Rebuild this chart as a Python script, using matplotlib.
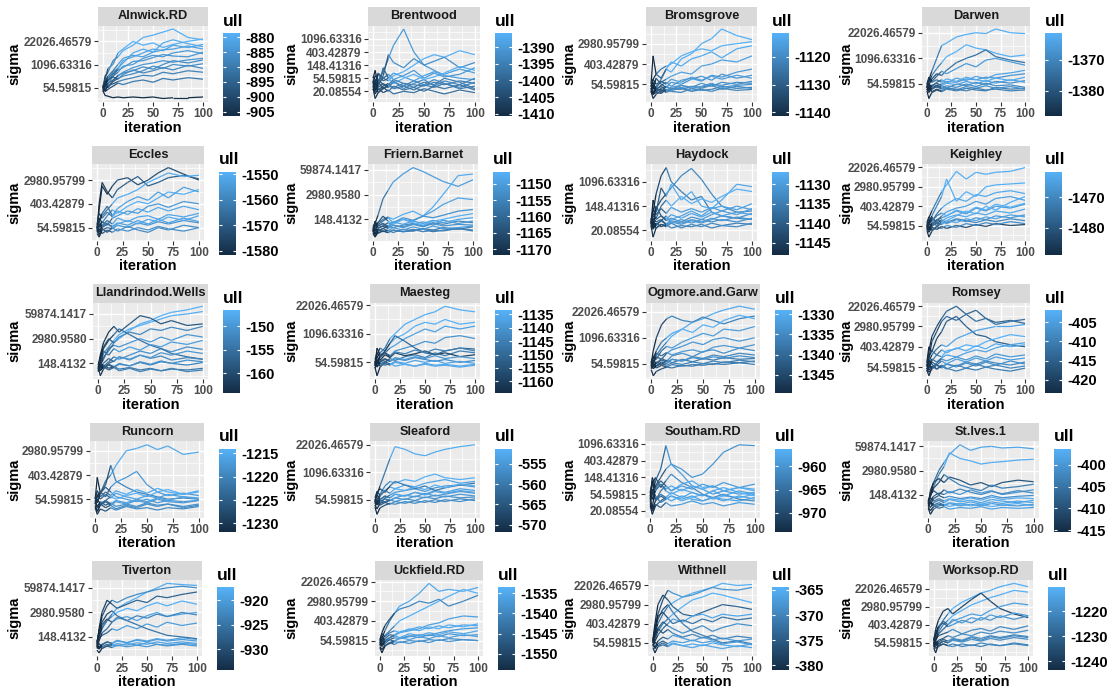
import numpy as np
import matplotlib
matplotlib.use("Agg")
from matplotlib import pyplot as plt
from matplotlib.collections import LineCollection
from matplotlib.colors import LinearSegmentedColormap, Normalize
from matplotlib.ticker import NullFormatter
import matplotlib.cm as cm

plt.rcParams['font.family'] = ['Liberation Sans', 'DejaVu Sans']
plt.rcParams['font.weight'] = 'bold'

ITERATION = [0, 2, 5, 10, 15, 20, 30, 40, 50, 60, 70, 85, 100]
# each ull value holds from this iteration on (start, early, settled)
ULL_FROM = [0, 5, 15]

NAMES = ["Alnwick.RD", "Brentwood", "Bromsgrove", "Darwen",
         "Eccles", "Friern.Barnet", "Haydock", "Keighley",
         "Llandrindod.Wells", "Maesteg", "Ogmore.and.Garw", "Romsey",
         "Runcorn", "Sleaford", "Southam.RD", "St.Ives.1",
         "Tiverton", "Uckfield.RD", "Withnell", "Worksop.RD"]

# y breaks as natural-log exponents (labels are exp(k))
Y_BREAKS = [[4, 7, 10], [3, 4, 5, 6, 7], [4, 6, 8], [4, 7, 10],
            [4, 6, 8], [5, 8, 11], [3, 5, 7], [4, 6, 8, 10],
            [5, 8, 11], [4, 7, 10], [4, 7, 10], [4, 6, 8, 10],
            [4, 6, 8], [4, 7, 10], [3, 4, 5, 6, 7], [5, 8, 11],
            [5, 8, 11], [4, 6, 8, 10], [4, 6, 8, 10], [4, 6, 8, 10]]

# colourbar break spacing
ULL_STEP = [5, 5, 10, 10, 10, 5, 5, 10, 5, 5, 5, 5, 5, 5, 5, 5, 5, 5, 5, 10]

# log(sigma) per chain, ull per chain
ALNWICK_SIGMA = [
    [3.6, 3.0, 2.9, 2.7, 2.8, 2.7, 2.8, 2.7, 2.8, 2.6, 2.7, 2.7, 2.8],
    [4.0, 5.5, 6.0, 7.5, 8.0, 8.8, 9.5, 10.5, 10.8, 11.2, 11.6, 10.5, 10.2],
    [4.2, 5.0, 6.5, 7.0, 8.5, 9.0, 10.0, 9.5, 9.8, 9.2, 9.6, 10.0, 10.3],
    [3.8, 4.5, 5.2, 6.0, 6.5, 7.5, 8.0, 8.5, 9.0, 8.8, 9.5, 9.2, 9.6],
    [4.0, 4.8, 5.0, 5.5, 6.0, 6.8, 7.0, 7.8, 8.2, 8.0, 8.5, 8.8, 8.4],
    [3.5, 4.2, 4.6, 5.0, 5.5, 6.0, 6.6, 7.0, 7.2, 7.5, 7.3, 7.6, 7.8],
    [3.9, 4.4, 4.0, 4.8, 5.2, 5.5, 5.8, 6.2, 6.8, 6.5, 7.0, 6.8, 7.1],
    [4.1, 3.6, 4.3, 4.5, 4.8, 5.0, 5.3, 5.6, 5.5, 6.0, 5.8, 6.2, 6.0],
    [3.7, 4.0, 4.5, 5.5, 6.5, 7.2, 8.5, 9.0, 8.6, 9.8, 10.2, 9.7, 9.3],
    [4.3, 3.5, 3.8, 4.2, 4.6, 4.4, 4.8, 5.0, 4.7, 5.2, 5.0, 5.3, 5.1],
    [4.0, 4.7, 5.5, 6.2, 7.0, 7.8, 8.2, 8.0, 8.6, 8.9, 9.0, 9.4, 9.0],
    [3.8, 4.3, 4.9, 5.8, 6.3, 6.6, 7.4, 7.5, 7.9, 8.3, 8.1, 8.0, 8.6],
    [4.2, 3.7, 4.2, 4.9, 5.6, 5.9, 6.2, 6.7, 6.4, 7.0, 7.5, 7.2, 7.6],
    [3.6, 4.5, 5.0, 5.4, 5.1, 5.7, 6.3, 5.9, 6.2, 6.6, 6.3, 6.9, 6.5],
]
ALNWICK_ULL = [[-906.5, -906, -905.5], [-900, -888, -879], [-899, -886, -878.5],
               [-902, -890, -881], [-903, -892, -883], [-904, -894, -884],
               [-905, -896, -886], [-904, -897, -888], [-901, -889, -880],
               [-905, -898, -890], [-903, -890, -882], [-904, -893, -884],
               [-905, -895, -886], [-905, -896, -887]]

BRENTWOOD_SIGMA = [
    [3.5, 3.0, 3.8, 4.5, 5.5, 6.5, 7.76, 6.0, 5.0, 4.6, 4.2, 4.0, 3.9],
    [3.8, 3.3, 3.6, 4.0, 3.8, 4.2, 4.5, 5.0, 5.5, 5.8, 5.6, 6.1, 5.8],
    [4.0, 4.6, 3.5, 4.2, 5.8, 5.2, 4.8, 5.5, 5.0, 5.3, 5.6, 4.8, 5.2],
    [3.2, 2.45, 2.9, 3.2, 3.4, 3.3, 3.6, 3.5, 3.4, 3.7, 3.5, 3.8, 3.6],
    [3.6, 4.2, 3.9, 3.5, 3.3, 3.8, 3.2, 3.6, 3.9, 3.4, 3.8, 3.5, 4.0],
    [3.4, 2.8, 3.2, 2.9, 3.1, 2.8, 3.0, 2.9, 3.2, 3.0, 2.8, 3.1, 2.9],
    [3.9, 3.5, 4.3, 3.8, 4.0, 4.4, 4.1, 3.8, 4.2, 4.5, 4.3, 4.7, 4.4],
    [3.3, 3.7, 3.1, 3.4, 3.6, 3.2, 3.4, 3.1, 3.5, 3.3, 3.6, 3.2, 3.4],
    [3.7, 3.0, 3.4, 4.8, 4.0, 3.6, 4.0, 4.3, 3.9, 4.1, 4.4, 4.9, 4.6],
    [3.5, 3.9, 3.3, 3.6, 3.3, 3.7, 3.4, 3.8, 3.5, 3.9, 3.6, 3.3, 3.7],
    [3.8, 3.1, 3.7, 3.2, 3.5, 3.9, 3.6, 3.3, 3.7, 3.5, 4.0, 3.7, 3.2],
    [3.1, 3.6, 2.9, 3.3, 3.0, 3.4, 3.1, 3.3, 3.0, 3.4, 3.2, 3.5, 3.1],
    [4.1, 3.7, 4.4, 4.0, 4.3, 3.9, 4.2, 4.6, 4.0, 4.4, 4.1, 4.3, 4.8],
]
BRENTWOOD_ULL = [[-1410, -1398, -1390], [-1408, -1397, -1386], [-1410.7, -1402, -1392],
                 [-1409, -1404, -1395], [-1409, -1403, -1393], [-1410, -1405, -1398],
                 [-1408, -1400, -1389], [-1410, -1404, -1396], [-1407, -1399, -1385.7],
                 [-1409, -1402, -1394], [-1410, -1403, -1395], [-1410, -1404, -1397],
                 [-1408, -1400, -1390]]

BROMSGROVE_SIGMA = [
    [3.5, 4.0, 3.6, 4.5, 5.5, 5.2, 6.5, 7.0, 8.0, 8.5, 9.45, 8.8, 8.4],
    [3.8, 4.5, 5.0, 5.5, 5.8, 6.0, 6.8, 7.2, 7.5, 7.3, 7.8, 8.0, 8.2],
    [4.0, 6.8, 5.0, 4.6, 5.5, 6.2, 5.8, 6.5, 6.8, 7.2, 6.6, 7.5, 7.8],
    [3.6, 3.2, 3.8, 4.2, 4.5, 4.8, 5.2, 5.0, 5.8, 6.0, 6.4, 6.2, 6.8],
    [3.3, 2.6, 3.0, 3.4, 3.3, 3.6, 3.5, 3.8, 3.7, 4.0, 3.9, 4.2, 4.1],
    [3.7, 4.2, 3.5, 3.9, 4.2, 3.8, 4.4, 4.6, 4.3, 4.9, 4.7, 5.2, 5.5],
    [3.4, 3.0, 3.2, 3.1, 3.5, 3.3, 3.2, 3.6, 3.4, 3.5, 3.8, 3.6, 3.7],
    [3.9, 3.5, 4.6, 4.0, 3.7, 4.2, 4.0, 4.5, 4.8, 4.4, 5.0, 4.6, 4.9],
    [3.5, 3.9, 3.3, 3.6, 3.8, 3.5, 3.9, 3.7, 4.1, 3.8, 4.2, 4.0, 4.3],
    [3.6, 3.1, 3.5, 3.8, 3.4, 3.7, 3.9, 3.6, 3.8, 4.1, 3.7, 3.9, 4.0],
    [3.2, 3.8, 3.3, 3.5, 3.2, 3.4, 3.6, 3.3, 3.5, 3.3, 3.6, 3.4, 3.5],
    [3.8, 4.5, 4.0, 4.3, 4.0, 4.5, 4.2, 4.7, 4.4, 4.8, 4.5, 4.9, 4.6],
    [3.4, 3.0, 3.6, 3.2, 3.8, 3.5, 3.7, 3.4, 3.6, 3.9, 3.5, 3.8, 3.6],
]
BROMSGROVE_ULL = [[-1140, -1125, -1112], [-1138, -1124, -1111.5], [-1141.3, -1128, -1113],
                  [-1139, -1127, -1115], [-1140, -1132, -1120], [-1139, -1129, -1117],
                  [-1141, -1134, -1122], [-1140, -1130, -1118], [-1140, -1131, -1119],
                  [-1140, -1130, -1118], [-1141, -1133, -1121], [-1140, -1129, -1116],
                  [-1141, -1132, -1120]]

DARWEN_SIGMA = [
    [3.6, 4.5, 5.5, 7.0, 8.5, 8.8, 9.5, 9.8, 10.0, 9.9, 10.44, 10.0, 9.9],
    [3.8, 4.2, 5.0, 5.8, 6.5, 7.2, 7.8, 8.6, 8.2, 8.0, 7.6, 7.2, 7.4],
    [3.5, 3.9, 4.6, 5.2, 5.0, 5.6, 6.5, 7.0, 7.4, 8.0, 7.2, 6.8, 6.5],
    [3.9, 4.8, 4.3, 4.9, 5.5, 5.2, 5.8, 6.4, 6.0, 6.8, 7.0, 6.6, 6.2],
    [3.4, 3.0, 3.5, 3.8, 4.0, 4.3, 4.2, 4.6, 4.5, 4.8, 4.7, 5.0, 5.2],
    [3.7, 3.3, 3.9, 3.6, 3.8, 3.5, 4.0, 3.8, 4.2, 3.9, 4.3, 4.1, 4.4],
    [3.2, 2.3, 3.0, 3.3, 3.1, 3.4, 3.2, 3.5, 3.3, 3.2, 3.6, 3.4, 3.5],
    [3.6, 4.0, 3.7, 4.2, 4.5, 4.1, 4.7, 4.4, 4.9, 4.6, 5.1, 5.3, 5.6],
    [3.3, 3.7, 3.4, 3.9, 3.5, 3.8, 3.6, 4.0, 3.7, 4.1, 3.8, 3.9, 3.6],
    [3.5, 3.9, 3.4, 3.7, 3.4, 3.6, 3.3, 3.7, 3.5, 3.8, 3.5, 3.7, 3.4],
    [3.8, 3.2, 3.8, 4.1, 3.8, 4.1, 3.9, 4.3, 4.0, 4.4, 4.1, 4.5, 4.2],
    [3.3, 3.6, 3.1, 3.4, 3.2, 3.5, 3.4, 3.2, 3.5, 3.3, 3.4, 3.2, 3.3],
    [4.0, 4.6, 4.2, 4.5, 4.2, 4.6, 4.3, 4.8, 4.5, 4.3, 4.7, 4.4, 4.8],
]
DARWEN_ULL = [[-1386, -1372, -1362], [-1385, -1370, -1361.5], [-1388, -1380, -1374],
              [-1387, -1376, -1366], [-1387, -1377, -1367], [-1388, -1378, -1368],
              [-1388, -1382, -1372], [-1386, -1375, -1364], [-1387, -1379, -1369],
              [-1387, -1378, -1368], [-1387, -1376, -1365], [-1388, -1381, -1371],
              [-1386, -1374, -1363]]

ECCLES_SIGMA = [
    [4.0, 5.5, 7.5, 6.8, 7.5, 8.0, 8.2, 7.6, 8.0, 8.6, 9.05, 8.5, 8.0],
    [3.8, 6.0, 7.8, 7.0, 6.5, 7.2, 7.8, 8.3, 7.5, 7.8, 8.2, 8.4, 8.1],
    [3.9, 4.5, 5.0, 5.5, 6.0, 6.5, 6.8, 7.2, 7.8, 8.2, 8.6, 8.3, 8.4],
    [4.2, 4.8, 4.4, 5.0, 5.5, 5.2, 5.8, 6.2, 6.0, 6.5, 7.0, 6.8, 7.2],
    [3.6, 4.0, 4.5, 4.2, 4.8, 5.0, 5.4, 5.2, 5.8, 6.0, 5.7, 6.2, 6.0],
    [3.5, 3.2, 3.8, 4.0, 3.9, 4.2, 4.0, 4.4, 4.2, 4.5, 4.3, 4.6, 4.4],
    [4.1, 3.6, 4.2, 4.6, 4.3, 4.8, 4.5, 4.9, 5.0, 4.7, 5.1, 4.9, 5.2],
    [3.7, 4.3, 3.9, 3.6, 4.0, 3.7, 4.1, 3.8, 3.6, 4.0, 3.8, 4.2, 4.0],
    [3.9, 4.6, 5.2, 5.8, 5.0, 5.6, 6.2, 6.6, 6.3, 7.0, 6.5, 7.4, 7.0],
    [3.8, 3.4, 4.0, 4.3, 4.1, 4.4, 4.2, 4.6, 4.3, 4.7, 4.4, 4.8, 4.5],
    [4.0, 4.5, 4.1, 4.4, 4.0, 4.3, 4.6, 4.3, 4.7, 4.5, 4.9, 4.6, 5.0],
    [3.6, 3.9, 3.5, 3.8, 3.6, 3.9, 3.7, 4.0, 3.8, 4.1, 3.9, 3.7, 4.0],
    [4.3, 5.2, 4.8, 5.3, 4.9, 5.4, 5.1, 5.6, 5.3, 5.7, 5.4, 5.8, 5.5],
]
ECCLES_ULL = [[-1581, -1578, -1572], [-1581.6, -1576, -1568], [-1579, -1562, -1550],
              [-1578, -1560, -1549], [-1580, -1566, -1555], [-1580, -1568, -1556],
              [-1579, -1564, -1552], [-1580, -1570, -1558], [-1578, -1565, -1553],
              [-1580, -1566, -1553], [-1579, -1563, -1551], [-1581, -1569, -1557],
              [-1579, -1562, -1551]]

FRIERN_SIGMA = [
    [3.8, 4.5, 5.5, 7.5, 8.5, 9.5, 10.5, 11.28, 10.8, 10.2, 9.6, 9.0, 9.8],
    [3.6, 4.2, 4.6, 5.0, 5.3, 5.0, 5.6, 6.0, 5.4, 6.5, 8.0, 10.3, 10.5],
    [4.0, 3.6, 4.4, 4.8, 5.2, 4.6, 5.0, 4.8, 5.4, 6.0, 6.8, 7.6, 7.4],
    [3.5, 4.8, 4.2, 4.5, 4.0, 4.6, 5.2, 4.9, 5.4, 5.2, 5.5, 6.0, 6.2],
    [3.4, 3.0, 3.6, 3.9, 4.2, 4.0, 4.3, 4.5, 4.2, 4.6, 4.4, 4.8, 4.6],
    [3.7, 3.2, 3.8, 3.5, 3.7, 3.4, 3.8, 3.6, 3.9, 3.7, 4.0, 3.8, 4.1],
    [3.9, 4.4, 4.0, 4.2, 4.6, 4.3, 4.1, 4.4, 4.7, 4.3, 4.9, 4.5, 4.8],
    [3.3, 2.85, 3.4, 3.6, 3.4, 3.7, 3.5, 3.6, 3.8, 3.5, 3.7, 3.9, 3.6],
    [3.6, 4.0, 4.6, 5.4, 4.8, 4.4, 5.0, 4.6, 4.3, 4.8, 5.0, 5.4, 5.7],
    [3.5, 3.9, 3.6, 3.9, 3.6, 4.0, 3.7, 4.1, 3.8, 4.2, 3.9, 4.0, 4.2],
    [3.8, 3.3, 3.9, 4.2, 3.9, 4.3, 4.0, 4.4, 4.1, 4.5, 4.2, 4.4, 4.3],
    [3.4, 3.7, 3.3, 3.6, 3.4, 3.7, 3.5, 3.8, 3.5, 3.7, 3.6, 3.9, 3.7],
    [4.1, 4.6, 4.2, 4.5, 4.2, 4.7, 4.4, 4.8, 4.5, 4.9, 4.6, 5.0, 5.2],
]
FRIERN_ULL = [[-1170, -1158, -1150], [-1169, -1156, -1147], [-1171.7, -1160, -1149],
              [-1170, -1162, -1152], [-1170, -1164, -1154], [-1171, -1165, -1156],
              [-1169, -1161, -1151], [-1171, -1166, -1157], [-1170, -1163, -1146.3],
              [-1170, -1162, -1150], [-1171, -1163, -1152], [-1171, -1165, -1155],
              [-1170, -1161, -1149]]

HAYDOCK_SIGMA = [
    [3.5, 4.5, 6.0, 7.5, 8.17, 7.0, 6.2, 5.5, 5.8, 4.5, 4.2, 4.0, 3.9],
    [3.8, 3.2, 4.8, 5.5, 6.0, 6.5, 7.5, 8.1, 7.2, 6.0, 5.0, 4.5, 4.6],
    [3.6, 5.5, 4.5, 6.5, 5.8, 6.8, 5.5, 6.2, 5.0, 4.8, 5.5, 6.8, 6.6],
    [3.9, 4.2, 4.0, 5.0, 5.5, 5.0, 5.8, 5.2, 5.6, 5.3, 5.8, 6.4, 6.2],
    [3.4, 2.45, 3.2, 3.5, 3.4, 3.7, 3.5, 3.8, 3.6, 3.9, 4.2, 4.0, 4.4],
    [3.7, 3.3, 3.6, 3.3, 3.5, 3.2, 3.4, 3.3, 3.5, 3.2, 3.4, 3.6, 3.5],
    [3.3, 3.8, 3.4, 3.8, 4.2, 3.6, 3.9, 3.6, 3.9, 4.3, 4.6, 4.3, 4.8],
    [4.0, 3.5, 5.0, 4.2, 3.8, 4.0, 3.7, 4.1, 3.9, 3.7, 3.9, 3.7, 4.0],
    [3.5, 4.0, 3.7, 3.9, 3.5, 3.9, 4.2, 4.6, 4.2, 4.8, 5.0, 4.7, 5.2],
    [3.6, 3.1, 3.5, 3.8, 3.5, 3.8, 3.6, 3.9, 3.7, 4.0, 3.8, 4.1, 3.9],
    [3.9, 4.4, 3.9, 4.2, 3.9, 4.3, 4.0, 4.4, 4.1, 4.5, 4.2, 4.5, 4.3],
    [3.4, 3.7, 3.2, 3.5, 3.3, 3.6, 3.2, 3.5, 3.3, 3.6, 3.4, 3.3, 3.6],
    [3.7, 4.8, 4.3, 4.8, 4.4, 4.9, 4.5, 4.8, 4.5, 4.9, 4.6, 5.0, 4.7],
]
HAYDOCK_ULL = [[-1148, -1143, -1135], [-1147, -1142, -1133], [-1148, -1140, -1128],
               [-1146, -1138, -1126.7], [-1147, -1141, -1131], [-1148, -1142, -1134],
               [-1147, -1139, -1130], [-1146, -1140, -1132], [-1147, -1139, -1129],
               [-1147, -1140, -1131], [-1146, -1139, -1129], [-1148, -1142, -1133],
               [-1147, -1139, -1130]]

KEIGHLEY_SIGMA = [
    [4.0, 4.8, 5.5, 6.5, 7.5, 8.2, 9.6, 8.8, 9.5, 9.3, 9.5, 9.6, 9.99],
    [3.8, 4.2, 5.0, 6.0, 7.0, 8.8, 6.5, 7.5, 7.0, 8.0, 8.2, 8.3, 8.4],
    [4.2, 4.6, 4.4, 5.2, 5.8, 6.2, 6.8, 6.5, 7.2, 7.0, 7.4, 7.6, 7.3],
    [3.6, 4.0, 4.7, 4.4, 5.0, 5.4, 5.8, 6.0, 6.5, 6.2, 6.8, 7.0, 6.6],
    [3.9, 3.5, 4.0, 4.6, 4.8, 5.0, 5.5, 5.2, 5.8, 5.5, 6.0, 5.8, 6.2],
    [3.7, 3.3, 3.8, 3.6, 3.9, 3.7, 4.0, 3.8, 4.1, 3.9, 4.2, 4.0, 4.1],
    [4.1, 3.6, 4.3, 4.0, 4.4, 4.2, 4.6, 4.4, 4.8, 4.6, 5.0, 4.8, 5.1],
    [3.5, 2.8, 3.4, 3.9, 4.2, 4.5, 5.0, 5.5, 5.2, 6.0, 5.6, 6.4, 7.0],
    [3.8, 4.4, 4.9, 4.2, 4.6, 4.3, 4.7, 4.5, 4.3, 4.6, 4.4, 4.7, 4.5],
    [3.8, 4.2, 3.9, 4.3, 4.1, 4.5, 4.3, 4.7, 4.5, 4.9, 4.7, 5.1, 4.9],
    [4.0, 3.6, 4.2, 4.6, 4.4, 4.8, 5.1, 4.9, 5.3, 5.1, 5.5, 5.3, 5.7],
    [3.6, 3.9, 3.5, 3.9, 3.7, 4.0, 3.8, 4.2, 4.0, 4.3, 4.1, 4.4, 4.2],
    [4.3, 4.9, 4.5, 5.0, 5.3, 5.0, 5.6, 5.3, 5.9, 5.6, 6.2, 5.9, 6.3],
]
KEIGHLEY_ULL = [[-1487, -1472, -1462], [-1486, -1470, -1461.5], [-1486, -1474, -1463],
                [-1487, -1476, -1465], [-1488, -1478, -1466], [-1488.8, -1485, -1482],
                [-1487, -1477, -1467], [-1487, -1475, -1462], [-1488, -1480, -1470],
                [-1487, -1476, -1464], [-1487, -1475, -1463], [-1488, -1479, -1469],
                [-1486, -1473, -1462]]

LLANDRINDOD_SIGMA = [
    [4.5, 5.0, 5.8, 6.5, 7.5, 8.0, 9.0, 9.8, 10.2, 10.8, 11.2, 11.5, 11.95],
    [4.3, 5.2, 6.2, 7.0, 7.8, 8.5, 9.2, 9.6, 10.0, 10.4, 10.8, 11.0, 11.3],
    [4.8, 6.0, 7.5, 8.8, 9.5, 8.8, 9.8, 10.8, 10.5, 9.8, 10.2, 9.6, 9.8],
    [4.6, 5.5, 7.0, 8.0, 7.5, 8.2, 8.8, 8.5, 9.2, 9.0, 9.4, 9.0, 9.5],
    [4.0, 4.8, 5.5, 6.8, 7.2, 7.0, 7.5, 8.0, 7.6, 8.2, 7.8, 8.5, 8.2],
    [4.4, 5.0, 4.6, 5.2, 5.8, 5.5, 6.0, 6.5, 6.2, 6.8, 6.4, 7.0, 6.7],
    [4.2, 4.6, 4.4, 4.8, 4.5, 4.9, 4.7, 5.1, 4.8, 5.2, 5.0, 4.8, 5.1],
    [4.7, 4.2, 4.8, 4.4, 4.6, 4.3, 4.5, 4.2, 4.4, 4.1, 4.3, 4.2, 4.4],
    [4.1, 5.8, 6.8, 7.8, 8.5, 9.2, 8.5, 7.8, 7.2, 6.8, 6.2, 5.8, 5.5],
    [4.5, 3.5, 4.3, 5.0, 5.3, 5.8, 5.5, 6.0, 5.6, 5.9, 5.4, 5.7, 5.5],
    [4.3, 4.8, 4.4, 4.9, 4.6, 5.0, 4.7, 5.2, 4.9, 5.3, 5.0, 5.4, 5.2],
    [4.6, 4.1, 4.6, 4.2, 4.5, 4.1, 4.4, 4.0, 4.3, 4.1, 4.4, 4.0, 4.2],
    [4.0, 4.5, 5.0, 5.6, 5.2, 5.8, 5.4, 6.0, 5.7, 6.3, 6.0, 6.5, 6.2],
    [4.8, 5.5, 6.5, 6.0, 6.8, 6.4, 7.0, 6.6, 7.3, 7.0, 7.6, 7.3, 7.8],
]
LLANDRINDOD_ULL = [[-162, -152, -146.6], [-161, -151, -147], [-164.3, -162, -158],
                   [-163, -158, -152], [-163, -157, -150], [-162, -156, -151],
                   [-163, -157, -153], [-164, -159, -154], [-164, -161, -155],
                   [-163, -158, -152], [-163, -157, -151], [-164, -158, -153],
                   [-163, -156, -150], [-163, -155, -149]]

MAESTEG_SIGMA = [
    [4.0, 4.5, 5.0, 5.5, 6.5, 7.0, 8.0, 8.5, 9.0, 9.3, 9.89, 9.5, 9.3],
    [3.8, 4.8, 5.5, 5.2, 6.0, 6.5, 7.0, 7.8, 8.2, 8.0, 8.5, 8.0, 8.2],
    [4.2, 3.8, 4.5, 5.0, 5.5, 5.8, 6.5, 7.0, 7.5, 7.2, 7.8, 7.5, 7.8],
    [3.6, 5.5, 4.8, 5.0, 4.6, 5.2, 5.5, 5.8, 6.2, 6.0, 6.6, 6.8, 6.5],
    [3.5, 2.6, 3.5, 4.0, 4.4, 4.2, 4.6, 4.8, 4.5, 5.0, 4.7, 5.2, 5.0],
    [3.9, 4.6, 4.2, 4.8, 4.5, 5.0, 4.7, 4.9, 5.2, 4.8, 5.0, 4.6, 4.8],
    [3.7, 4.1, 3.6, 3.9, 3.7, 4.0, 3.8, 3.6, 3.9, 3.7, 3.8, 3.6, 3.8],
    [4.1, 3.5, 4.0, 4.3, 4.1, 4.4, 4.2, 4.5, 4.3, 4.1, 4.3, 4.0, 4.2],
    [3.4, 4.0, 4.6, 5.2, 6.0, 6.8, 6.2, 5.5, 5.0, 4.8, 5.2, 5.5, 5.4],
    [3.8, 4.2, 3.8, 4.1, 3.8, 4.1, 3.9, 4.2, 4.0, 4.2, 3.9, 4.1, 3.9],
    [4.0, 3.6, 4.1, 4.4, 4.1, 4.5, 4.3, 4.6, 4.4, 4.7, 4.4, 4.6, 4.4],
    [3.6, 4.3, 3.9, 3.7, 3.9, 3.6, 3.8, 3.6, 3.8, 3.6, 3.7, 3.5, 3.7],
    [4.3, 5.0, 4.6, 5.0, 4.7, 5.1, 4.9, 5.3, 5.0, 5.4, 5.2, 5.5, 5.2],
]
MAESTEG_ULL = [[-1164, -1148, -1134], [-1163, -1146, -1133.4], [-1164, -1150, -1137],
               [-1164.5, -1152, -1140], [-1164, -1156, -1145], [-1164.5, -1162, -1158],
               [-1164, -1150, -1136], [-1164, -1154, -1142], [-1164, -1158, -1150],
               [-1164, -1151, -1137], [-1164, -1153, -1139], [-1164, -1149, -1135],
               [-1164, -1155, -1144]]

OGMORE_SIGMA = [
    [3.8, 4.5, 5.5, 6.5, 7.0, 7.5, 8.0, 8.8, 9.2, 9.8, 10.2, 10.65, 10.3],
    [4.0, 5.5, 7.0, 8.5, 9.2, 9.5, 9.0, 8.8, 9.4, 9.0, 8.6, 9.2, 9.5],
    [3.6, 4.2, 5.0, 5.8, 6.5, 7.2, 8.0, 7.6, 8.5, 8.2, 9.0, 9.6, 9.2],
    [4.2, 4.8, 4.5, 5.5, 6.0, 5.8, 6.5, 7.0, 7.5, 7.2, 8.0, 7.8, 8.3],
    [3.5, 4.0, 4.8, 4.5, 5.2, 5.6, 6.0, 6.5, 6.2, 6.8, 7.0, 6.6, 7.0],
    [3.9, 3.4, 3.8, 4.2, 4.0, 4.5, 4.3, 4.8, 4.6, 5.0, 4.8, 5.2, 5.0],
    [3.3, 2.6, 3.1, 3.4, 3.6, 3.5, 3.8, 3.7, 4.0, 3.9, 4.2, 4.1, 4.3],
    [3.7, 4.4, 4.0, 4.6, 4.3, 4.9, 5.2, 4.8, 5.4, 5.6, 5.2, 5.8, 5.5],
    [4.1, 3.6, 4.2, 3.9, 4.4, 4.1, 4.5, 4.2, 4.6, 4.4, 4.7, 4.5, 4.6],
    [3.7, 4.1, 3.7, 4.0, 3.8, 4.1, 3.9, 4.2, 4.0, 4.3, 4.1, 4.4, 4.2],
    [4.0, 3.6, 4.1, 4.4, 4.2, 4.5, 4.3, 4.7, 4.5, 4.8, 4.6, 4.9, 4.7],
    [3.4, 3.9, 3.5, 3.8, 3.6, 3.9, 3.7, 3.9, 3.8, 4.0, 3.9, 4.1, 3.9],
    [4.2, 4.8, 5.2, 4.9, 5.3, 5.0, 5.4, 5.6, 5.3, 5.9, 6.1, 5.8, 6.2],
]
OGMORE_ULL = [[-1348, -1338, -1330], [-1349.6, -1345, -1336], [-1347, -1337, -1329],
              [-1348, -1339, -1332], [-1348, -1340, -1333], [-1349, -1342, -1335],
              [-1349, -1344, -1338], [-1348, -1341, -1334], [-1349, -1343, -1337],
              [-1349, -1343, -1336], [-1348, -1341, -1334], [-1349, -1344, -1337],
              [-1348, -1340, -1333]]

ROMSEY_SIGMA = [
    [4.2, 5.5, 7.0, 8.0, 8.8, 9.5, 10.0, 9.2, 9.6, 8.8, 8.4, 8.6, 8.3],
    [4.0, 4.8, 6.5, 7.5, 8.5, 9.0, 8.6, 9.2, 8.5, 8.8, 8.2, 8.5, 8.7],
    [4.5, 6.0, 5.5, 6.8, 7.5, 8.5, 9.0, 8.0, 7.2, 7.0, 6.5, 6.2, 6.0],
    [3.8, 4.5, 5.2, 5.8, 6.2, 6.0, 6.8, 7.2, 7.6, 7.8, 8.0, 8.0, 8.2],
    [4.3, 3.9, 4.6, 5.2, 5.0, 5.6, 5.8, 6.2, 6.0, 6.5, 6.8, 7.2, 7.0],
    [3.6, 4.2, 4.8, 4.5, 4.9, 5.2, 5.0, 5.4, 5.7, 5.5, 5.9, 6.2, 6.4],
    [3.9, 3.5, 3.8, 4.2, 4.0, 4.3, 4.1, 4.5, 4.3, 4.6, 4.4, 4.2, 4.5],
    [4.1, 4.6, 4.3, 3.8, 4.2, 3.9, 3.6, 3.9, 3.7, 4.0, 3.8, 3.6, 3.9],
    [3.7, 3.15, 3.9, 4.4, 4.8, 4.6, 5.0, 4.7, 5.1, 4.8, 5.3, 5.0, 5.2],
    [3.8, 4.3, 3.9, 4.2, 3.9, 4.3, 4.0, 4.4, 4.1, 4.5, 4.2, 4.6, 4.3],
    [4.2, 3.7, 4.1, 3.8, 4.1, 3.8, 4.2, 3.9, 4.3, 4.0, 4.2, 3.9, 4.1],
    [3.6, 4.0, 4.5, 4.2, 4.6, 4.3, 4.8, 4.5, 4.9, 4.6, 5.0, 4.7, 4.9],
    [4.4, 5.0, 5.6, 5.2, 5.7, 5.4, 5.9, 5.6, 6.1, 5.8, 6.3, 6.0, 6.2],
]
ROMSEY_ULL = [[-423, -418, -414], [-422, -417, -412], [-423.5, -419, -415],
              [-421, -412, -404], [-421, -410, -401.9], [-422, -411, -404],
              [-422, -414, -408], [-423, -416, -410], [-422, -413, -406],
              [-422, -414, -407], [-423, -415, -409], [-422, -413, -405],
              [-422, -412, -403]]

RUNCORN_SIGMA = [
    [3.8, 4.2, 4.5, 5.5, 6.0, 6.8, 8.0, 8.2, 8.5, 8.1, 8.4, 7.7, 7.9],
    [4.0, 5.8, 4.5, 5.2, 6.8, 5.5, 5.0, 4.6, 4.4, 4.2, 4.0, 4.1, 4.0],
    [3.6, 4.2, 4.6, 4.2, 5.0, 5.4, 5.8, 6.3, 5.2, 4.6, 4.3, 4.5, 4.3],
    [3.5, 3.0, 3.6, 3.9, 4.2, 4.0, 4.3, 4.5, 4.2, 4.6, 4.8, 4.4, 4.6],
    [3.9, 3.4, 3.8, 3.5, 3.7, 3.4, 3.6, 3.4, 3.7, 3.5, 3.6, 3.4, 3.6],
    [3.3, 2.75, 3.2, 3.0, 3.3, 3.1, 3.4, 3.2, 3.3, 3.1, 3.3, 3.2, 3.4],
    [3.7, 4.4, 4.0, 4.4, 4.1, 4.5, 4.2, 4.0, 4.3, 4.1, 4.4, 4.2, 4.1],
    [4.2, 3.7, 4.5, 5.0, 4.6, 4.2, 4.0, 3.8, 4.0, 3.7, 3.9, 3.8, 3.9],
    [3.6, 4.0, 3.6, 3.9, 3.6, 3.9, 3.7, 4.0, 3.8, 4.1, 3.9, 4.2, 4.0],
    [3.4, 3.0, 3.5, 3.8, 3.5, 3.8, 3.6, 3.9, 3.7, 4.0, 3.8, 3.7, 3.9],
    [4.0, 4.7, 4.2, 4.6, 4.3, 4.7, 4.4, 4.8, 4.5, 4.9, 4.6, 4.4, 4.7],
    [3.7, 3.3, 3.6, 3.3, 3.5, 3.2, 3.5, 3.3, 3.6, 3.4, 3.6, 3.3, 3.5],
]
RUNCORN_ULL = [[-1230, -1222, -1215], [-1231.8, -1227, -1220], [-1230, -1224, -1217],
               [-1231, -1223, -1214], [-1231, -1225, -1218], [-1231, -1226, -1219],
               [-1230, -1224, -1216], [-1231, -1225, -1217], [-1231, -1224, -1216],
               [-1231, -1225, -1217], [-1230, -1223, -1215], [-1231, -1226, -1219]]

SLEAFORD_SIGMA = [
    [3.8, 4.5, 5.5, 7.0, 8.5, 9.8, 9.5, 9.0, 8.8, 9.2, 9.5, 9.8, 10.0],
    [3.6, 4.0, 4.6, 5.5, 6.0, 5.8, 6.2, 6.0, 6.5, 6.8, 6.4, 6.2, 6.4],
    [4.0, 3.5, 4.4, 5.0, 5.4, 5.2, 5.6, 5.4, 5.8, 6.0, 6.2, 5.8, 6.0],
    [3.4, 3.0, 3.6, 4.2, 4.5, 4.8, 5.0, 5.2, 4.9, 5.3, 5.5, 5.6, 5.4],
    [3.9, 4.5, 4.0, 4.4, 4.2, 4.6, 4.4, 4.8, 4.6, 5.0, 4.8, 5.2, 5.0],
    [3.2, 2.4, 3.1, 3.4, 3.6, 3.5, 3.8, 3.6, 3.9, 3.7, 4.0, 3.8, 4.1],
    [3.7, 4.8, 5.2, 4.8, 5.5, 6.0, 5.6, 5.2, 5.5, 5.0, 5.3, 5.6, 5.8],
    [3.5, 3.9, 3.6, 3.8, 4.0, 3.8, 4.1, 3.9, 4.3, 4.1, 4.4, 4.2, 4.3],
    [4.1, 3.7, 4.0, 3.7, 3.9, 4.2, 4.5, 4.3, 4.7, 4.4, 4.6, 4.9, 4.7],
    [3.6, 4.0, 3.7, 4.1, 3.9, 4.2, 4.0, 4.4, 4.2, 4.5, 4.3, 4.6, 4.4],
    [3.9, 3.4, 4.0, 4.4, 4.2, 4.6, 4.4, 4.8, 4.5, 4.9, 4.7, 5.0, 4.8],
    [3.3, 3.7, 3.4, 3.7, 3.5, 3.8, 3.6, 3.9, 3.7, 4.0, 3.8, 4.1, 3.9],
    [4.2, 4.9, 4.5, 5.0, 4.7, 5.2, 5.0, 5.4, 5.1, 5.6, 5.3, 5.7, 5.5],
]
SLEAFORD_ULL = [[-570, -560, -552], [-569, -558, -551.3], [-570, -560, -553],
                [-571, -562, -555], [-570, -561, -554], [-571.8, -565, -557],
                [-571, -566, -560], [-570, -563, -556], [-570, -562, -555],
                [-570, -562, -555], [-570, -561, -553], [-571, -564, -557],
                [-570, -560, -552]]

SOUTHAM_SIGMA = [
    [3.5, 4.0, 4.8, 5.5, 6.9, 5.8, 5.5, 5.0, 5.2, 5.8, 6.5, 6.95, 6.9],
    [3.8, 3.2, 4.5, 5.0, 5.5, 5.8, 5.2, 4.5, 4.3, 4.0, 4.2, 4.0, 4.1],
    [4.0, 4.8, 3.6, 4.2, 4.5, 4.2, 4.6, 4.8, 4.4, 4.5, 4.2, 4.4, 4.3],
    [3.3, 2.8, 3.3, 3.6, 3.8, 3.6, 3.9, 3.7, 3.6, 3.8, 3.7, 3.6, 3.8],
    [3.6, 4.3, 3.9, 3.5, 3.7, 3.9, 3.6, 3.8, 4.0, 3.7, 3.9, 3.8, 4.0],
    [4.2, 3.7, 4.2, 4.6, 4.2, 4.0, 4.3, 4.1, 3.9, 4.2, 4.4, 4.1, 3.9],
    [3.9, 4.6, 5.0, 4.4, 4.8, 5.2, 4.7, 4.4, 4.0, 3.8, 4.0, 3.7, 3.6],
    [3.4, 3.0, 3.4, 3.2, 3.5, 3.3, 3.4, 3.6, 3.4, 3.5, 3.3, 3.5, 3.4],
    [3.7, 4.1, 3.7, 4.0, 3.8, 4.1, 3.8, 4.1, 3.9, 4.2, 3.9, 4.2, 4.0],
    [3.5, 3.1, 3.6, 3.9, 3.7, 3.9, 3.7, 3.9, 3.6, 3.8, 3.6, 3.9, 3.7],
    [4.1, 4.7, 4.3, 4.6, 4.3, 4.5, 4.2, 4.5, 4.3, 4.5, 4.2, 4.4, 4.2],
    [3.8, 5.0, 4.4, 4.8, 4.5, 4.2, 4.5, 4.3, 4.6, 4.4, 4.7, 4.4, 4.6],
]
SOUTHAM_ULL = [[-973, -966, -960], [-974.1, -968, -959], [-973, -964, -957],
               [-974, -966, -958], [-973, -963, -956.2], [-974, -965, -957],
               [-974, -969, -961], [-973, -967, -959], [-973, -965, -958],
               [-974, -966, -958], [-973, -964, -957], [-974, -967, -959]]

STIVES_SIGMA = [
    [4.0, 5.0, 6.5, 8.0, 9.0, 10.0, 11.2, 10.5, 10.9, 11.0, 10.8, 10.9, 10.7],
    [4.2, 4.8, 6.0, 7.5, 8.5, 10.2, 9.5, 9.2, 8.8, 9.0, 9.1, 9.3, 9.4],
    [3.8, 5.5, 6.5, 7.0, 6.5, 7.2, 6.8, 6.2, 6.5, 6.0, 6.5, 6.8, 6.6],
    [4.1, 4.8, 5.8, 6.5, 7.5, 7.0, 6.2, 5.8, 5.5, 6.2, 5.8, 6.0, 6.3],
    [3.6, 4.2, 4.8, 5.2, 5.0, 5.4, 5.0, 5.6, 5.2, 5.5, 5.0, 5.3, 5.6],
    [3.3, 2.55, 3.2, 3.6, 3.8, 3.5, 3.9, 3.6, 3.8, 3.5, 3.7, 3.9, 3.6],
    [3.9, 3.4, 4.0, 4.3, 4.0, 4.4, 4.1, 4.3, 4.0, 4.4, 4.2, 4.0, 4.3],
    [3.5, 4.0, 3.6, 3.3, 3.5, 3.2, 3.4, 3.3, 3.5, 3.2, 3.4, 3.3, 3.4],
    [4.3, 3.8, 4.5, 4.9, 4.6, 4.8, 4.5, 4.7, 4.5, 4.9, 4.6, 4.8, 4.9],
    [3.7, 4.1, 3.7, 4.0, 3.7, 4.0, 3.8, 4.1, 3.8, 4.1, 3.9, 4.2, 4.0],
    [3.5, 3.0, 3.5, 3.8, 3.6, 3.9, 3.6, 3.8, 3.6, 3.9, 3.7, 3.6, 3.8],
    [4.0, 4.6, 4.2, 4.5, 4.2, 4.5, 4.3, 4.6, 4.3, 4.7, 4.4, 4.6, 4.5],
    [4.2, 5.0, 5.5, 5.0, 5.6, 5.2, 5.7, 5.3, 5.0, 5.4, 5.1, 5.5, 5.2],
]
STIVES_ULL = [[-414, -405, -398], [-414, -404, -397], [-415.4, -412, -409],
              [-415, -410, -403], [-414, -407, -400], [-415, -405, -396.3],
              [-414, -404, -398], [-415, -406, -399], [-414, -408, -401],
              [-414, -405, -398], [-415, -406, -399], [-414, -404, -397],
              [-415, -409, -402]]

TIVERTON_SIGMA = [
    [4.0, 5.0, 6.0, 7.0, 7.8, 8.5, 9.2, 9.8, 10.5, 11.0, 11.55, 11.4, 11.3],
    [4.2, 5.5, 7.5, 8.8, 9.5, 9.2, 9.8, 10.2, 10.5, 10.8, 11.0, 11.2, 11.0],
    [3.8, 6.0, 8.0, 9.5, 9.0, 8.5, 9.0, 9.5, 9.2, 10.0, 9.8, 10.2, 10.5],
    [4.5, 5.2, 6.2, 7.0, 7.5, 8.0, 8.5, 8.2, 8.8, 9.2, 8.8, 9.4, 9.0],
    [3.6, 4.5, 5.5, 6.0, 6.8, 7.2, 7.5, 7.0, 7.6, 8.0, 7.5, 7.8, 8.0],
    [4.1, 4.8, 5.2, 5.5, 6.0, 5.8, 6.4, 6.0, 6.6, 6.2, 6.8, 6.4, 6.7],
    [3.9, 3.5, 4.0, 4.4, 4.2, 4.6, 4.3, 4.7, 4.5, 4.8, 4.6, 4.9, 4.7],
    [3.4, 3.05, 3.6, 3.9, 4.1, 3.9, 4.2, 4.0, 4.3, 4.1, 4.0, 4.2, 4.1],
    [4.3, 5.8, 6.8, 7.8, 8.2, 7.6, 7.0, 6.5, 6.0, 5.6, 5.2, 5.0, 4.8],
    [3.8, 4.2, 3.8, 4.1, 3.9, 4.2, 4.0, 4.3, 4.1, 4.4, 4.2, 4.4, 4.2],
    [4.0, 3.6, 4.1, 4.4, 4.2, 4.5, 4.3, 4.6, 4.4, 4.7, 4.5, 4.7, 4.5],
    [3.6, 3.9, 3.6, 3.9, 3.7, 4.0, 3.8, 4.0, 3.8, 4.1, 3.9, 4.1, 3.9],
    [4.4, 5.5, 6.5, 7.2, 6.8, 7.4, 7.0, 7.6, 7.3, 7.8, 7.5, 8.0, 7.7],
]
TIVERTON_ULL = [[-933, -925, -918], [-934.3, -929, -922], [-934, -931, -927],
                [-933, -924, -917.4], [-933, -926, -919], [-933, -927, -920],
                [-934, -926, -919], [-934, -927, -920], [-934, -930, -925],
                [-933, -926, -919], [-934, -927, -920], [-934, -928, -921],
                [-934, -929, -923]]

UCKFIELD_SIGMA = [
    [3.8, 4.2, 5.0, 6.0, 6.8, 7.5, 8.0, 8.8, 9.81, 9.0, 9.2, 9.0, 9.4],
    [3.6, 4.0, 4.5, 5.0, 5.5, 6.0, 6.5, 7.0, 7.5, 8.0, 8.5, 9.2, 8.8],
    [4.0, 4.8, 5.5, 6.2, 6.8, 7.2, 7.5, 8.0, 7.8, 8.2, 7.5, 8.0, 8.6],
    [3.5, 3.9, 4.2, 4.6, 4.5, 4.8, 5.0, 5.2, 5.6, 5.8, 6.2, 6.5, 6.4],
    [3.3, 2.75, 3.4, 3.8, 4.0, 4.2, 4.4, 4.6, 4.5, 4.8, 5.0, 5.2, 5.3],
    [3.7, 3.4, 3.9, 4.1, 4.3, 4.2, 4.5, 4.3, 4.6, 4.4, 4.7, 4.5, 4.6],
    [3.9, 4.4, 4.0, 4.3, 4.6, 4.9, 5.1, 5.4, 5.2, 5.5, 5.3, 5.6, 5.5],
    [3.4, 3.1, 3.5, 3.7, 3.9, 3.8, 4.0, 3.9, 4.1, 4.0, 4.2, 4.1, 4.0],
    [3.7, 4.1, 3.7, 4.1, 3.9, 4.3, 4.1, 4.4, 4.2, 4.5, 4.3, 4.6, 4.4],
    [3.9, 3.5, 4.0, 4.3, 4.5, 4.3, 4.7, 4.5, 4.8, 4.6, 4.9, 4.7, 5.0],
    [3.5, 3.8, 3.5, 3.8, 3.6, 3.9, 3.7, 4.0, 3.8, 4.1, 3.9, 4.1, 4.0],
    [4.1, 4.7, 4.4, 4.8, 5.0, 4.8, 5.2, 5.0, 5.4, 5.2, 5.6, 5.4, 5.7],
]
UCKFIELD_ULL = [[-1553, -1543, -1535], [-1552, -1541, -1533.5], [-1554.2, -1548, -1540],
                [-1553, -1544, -1536], [-1554, -1546, -1537], [-1553, -1545, -1538],
                [-1553, -1543, -1535], [-1554, -1547, -1539], [-1553, -1544, -1536],
                [-1553, -1543, -1535], [-1554, -1546, -1538], [-1553, -1542, -1534]]

WITHNELL_SIGMA = [
    [4.0, 5.0, 6.0, 7.0, 7.8, 8.2, 8.8, 9.2, 9.5, 9.8, 10.22, 10.0, 10.1],
    [4.2, 5.5, 7.0, 8.5, 9.5, 9.2, 8.8, 9.0, 9.4, 9.8, 9.6, 9.5, 9.8],
    [3.8, 4.5, 5.2, 6.0, 6.5, 7.0, 7.8, 8.5, 8.8, 9.2, 9.0, 8.6, 8.2],
    [4.4, 6.0, 8.0, 9.0, 8.5, 7.8, 7.0, 6.8, 7.2, 7.6, 8.0, 7.8, 7.5],
    [3.6, 4.2, 4.8, 5.5, 6.0, 6.5, 6.2, 6.8, 7.0, 6.6, 7.0, 6.8, 7.0],
    [4.1, 4.8, 5.5, 6.2, 5.8, 5.5, 5.0, 5.4, 5.8, 5.2, 5.6, 6.0, 5.8],
    [3.9, 3.5, 4.2, 4.6, 4.4, 4.8, 4.5, 4.2, 4.6, 4.3, 4.5, 4.2, 4.4],
    [3.5, 2.95, 3.6, 3.8, 3.6, 3.9, 3.7, 3.5, 3.8, 3.6, 3.4, 3.7, 3.5],
    [4.3, 5.2, 6.5, 7.5, 8.0, 7.2, 6.0, 5.2, 4.8, 4.4, 4.0, 4.2, 3.9],
    [3.7, 4.1, 3.7, 4.0, 3.7, 4.0, 3.7, 3.9, 3.7, 4.0, 3.8, 3.6, 3.9],
    [3.9, 3.4, 3.9, 4.2, 3.9, 4.2, 4.0, 4.3, 4.0, 4.2, 3.9, 4.1, 3.8],
    [4.2, 4.8, 5.5, 5.0, 5.4, 5.0, 4.6, 4.9, 4.5, 4.8, 4.4, 4.7, 4.5],
    [4.0, 5.5, 6.8, 7.2, 6.6, 6.0, 6.4, 6.0, 6.5, 6.2, 6.7, 6.4, 6.6],
]
WITHNELL_ULL = [[-380, -372, -365], [-381, -376, -368], [-379, -371, -364.5],
                [-381, -378, -374], [-380, -373, -366], [-380, -375, -369],
                [-380, -374, -367], [-380, -373, -366], [-381, -377, -371],
                [-380, -373, -366], [-380, -374, -367], [-381, -376, -370],
                [-381, -377, -372]]

WORKSOP_SIGMA = [
    [4.0, 4.8, 5.5, 6.5, 7.2, 7.8, 8.5, 9.0, 9.5, 9.8, 10.2, 10.57, 10.2],
    [3.8, 4.5, 5.2, 6.0, 6.5, 7.0, 7.6, 8.2, 8.6, 9.0, 9.3, 9.8, 9.6],
    [4.2, 5.5, 6.5, 7.5, 7.8, 7.2, 8.0, 8.8, 9.5, 8.6, 7.8, 7.2, 6.8],
    [3.6, 4.2, 5.0, 5.5, 6.0, 6.4, 6.8, 7.2, 7.0, 7.6, 8.0, 8.4, 8.2],
    [4.4, 5.0, 5.8, 6.2, 5.8, 6.0, 6.5, 6.2, 6.8, 6.5, 7.0, 6.6, 7.0],
    [3.9, 4.4, 4.8, 5.0, 5.2, 5.5, 5.0, 5.4, 5.6, 5.3, 5.8, 5.5, 5.9],
    [3.5, 2.9, 3.8, 4.2, 4.0, 4.4, 4.2, 4.6, 4.3, 4.7, 4.5, 4.8, 4.6],
    [3.7, 3.4, 3.6, 3.9, 3.7, 3.6, 3.9, 3.7, 4.0, 3.8, 3.7, 4.0, 3.8],
    [4.1, 3.8, 4.3, 4.5, 4.8, 4.6, 5.0, 4.8, 5.2, 5.0, 5.3, 5.1, 5.4],
    [3.8, 4.2, 3.9, 4.2, 4.0, 4.3, 4.1, 4.4, 4.2, 4.5, 4.3, 4.6, 4.4],
    [4.0, 3.6, 4.1, 4.4, 4.2, 4.5, 4.3, 4.7, 4.5, 4.8, 4.6, 4.9, 4.7],
    [3.6, 4.0, 3.7, 3.9, 3.7, 3.9, 3.6, 3.8, 3.6, 3.9, 3.7, 3.9, 3.7],
    [4.3, 5.0, 5.8, 6.4, 6.0, 6.6, 6.2, 6.8, 6.5, 7.1, 6.8, 7.3, 7.0],
]
WORKSOP_ULL = [[-1242, -1225, -1211], [-1241, -1222, -1210.5], [-1243.6, -1240, -1236],
               [-1242, -1228, -1215], [-1242, -1230, -1218], [-1242, -1232, -1220],
               [-1243, -1234, -1222], [-1243, -1233, -1221], [-1242, -1231, -1219],
               [-1242, -1231, -1219], [-1243, -1232, -1220], [-1243, -1234, -1222],
               [-1242, -1229, -1216]]

SIGMA = [ALNWICK_SIGMA, BRENTWOOD_SIGMA, BROMSGROVE_SIGMA, DARWEN_SIGMA,
         ECCLES_SIGMA, FRIERN_SIGMA, HAYDOCK_SIGMA, KEIGHLEY_SIGMA,
         LLANDRINDOD_SIGMA, MAESTEG_SIGMA, OGMORE_SIGMA, ROMSEY_SIGMA,
         RUNCORN_SIGMA, SLEAFORD_SIGMA, SOUTHAM_SIGMA, STIVES_SIGMA,
         TIVERTON_SIGMA, UCKFIELD_SIGMA, WITHNELL_SIGMA, WORKSOP_SIGMA]
ULL = [ALNWICK_ULL, BRENTWOOD_ULL, BROMSGROVE_ULL, DARWEN_ULL,
       ECCLES_ULL, FRIERN_ULL, HAYDOCK_ULL, KEIGHLEY_ULL,
       LLANDRINDOD_ULL, MAESTEG_ULL, OGMORE_ULL, ROMSEY_ULL,
       RUNCORN_ULL, SLEAFORD_ULL, SOUTHAM_ULL, STIVES_ULL,
       TIVERTON_ULL, UCKFIELD_ULL, WITHNELL_ULL, WORKSOP_ULL]

# layout (pixels)
W, H = 1110, 693
COL_W, ROW_H = 277.5, 138.6
PANEL_LR = [(98, 208), (368, 480), (646, 757), (922, 1030),
            (92, 204), (368, 478), (646, 757), (922, 1030),
            (93, 208), (370, 480), (646, 760), (922, 1030),
            (90, 204), (370, 480), (645, 760), (923, 1039),
            (92, 202), (375, 483), (648, 757), (929, 1033)]

cmap = LinearSegmentedColormap.from_list('gg', ['#132B43', '#56B1F7'])

fig = plt.figure(figsize=(W / 100, H / 100), dpi=100)


def box(l, t, r, b):
    return [l / W, 1 - b / H, (r - l) / W, (b - t) / H]


def tick_labels(ks):
    dec = max(7 - len(str(int(np.exp(k)))) for k in ks)
    return [f"{np.exp(k):.{dec}f}" for k in ks]


x = np.array(ITERATION, dtype=float)
seg_ull_idx = np.searchsorted(ULL_FROM, x[:-1], side='right') - 1

for i, name in enumerate(NAMES):
    row, col = divmod(i, 4)
    top = row * ROW_H
    left, right = PANEL_LR[i]
    p_top, p_bot = top + 25.5, top + 102

    logs = np.array(SIGMA[i])
    ulls = np.array(ULL[i])
    norm = Normalize(ulls.min(), ulls.max())

    ax = fig.add_axes(box(left, p_top, right, p_bot))
    ax.set_facecolor('#EBEBEB')
    for s in ax.spines.values():
        s.set_visible(False)
    ax.set_yscale('log')

    segs, cols = [], []
    for chain, u in zip(logs, ulls):
        pts = np.column_stack([x, np.exp(chain)])
        segs.extend(np.stack([pts[:-1], pts[1:]], axis=1))
        cols.extend(u[seg_ull_idx])
    lc = LineCollection(segs, cmap=cmap, norm=norm, linewidths=0.9)
    lc.set_array(np.array(cols))
    ax.add_collection(lc)

    lo, hi = logs.min(), logs.max()
    pad = 0.05 * (hi - lo)
    ax.set_ylim(np.exp(lo - pad), np.exp(hi + pad))
    ax.set_xlim(-5, 105)

    yb = Y_BREAKS[i]
    step = yb[1] - yb[0]
    ax.set_yticks(np.exp(yb))
    ax.set_yticklabels(tick_labels(yb))
    minors = [k + step / 2 for k in [yb[0] - step] + yb
              if lo - pad < k + step / 2 < hi + pad]
    ax.set_yticks(np.exp(minors), minor=True)
    ax.yaxis.set_minor_formatter(NullFormatter())
    ax.set_xticks([0, 25, 50, 75, 100])
    ax.set_xticks([12.5, 37.5, 62.5, 87.5], minor=True)
    ax.grid(which='major', color='white', lw=1.0)
    ax.grid(which='minor', color='white', lw=0.5)
    ax.set_axisbelow(True)
    ax.tick_params(which='minor', length=0)
    ax.tick_params(which='major', length=3, width=0.8, color='#333333',
                   labelsize=8.5, labelcolor='#4D4D4D', pad=1.5)

    # strip
    sax = fig.add_axes(box(left, top + 7, right, p_top))
    sax.set_facecolor('#D9D9D9')
    sax.set_xticks([])
    sax.set_yticks([])
    for s in sax.spines.values():
        s.set_visible(False)
    sax.text(0.5, 0.5, name, ha='center', va='center', fontsize=9.2,
             color='#1A1A1A', transform=sax.transAxes)

    # axis titles
    cell_left = col * COL_W
    fig.text((cell_left + 14) / W, 1 - (p_top + p_bot) / 2 / H, 'sigma',
             rotation=90, ha='center', va='center', fontsize=10.5)
    fig.text((left + right) / 2 / W, 1 - (top + 127.5) / H, 'iteration',
             ha='center', va='center', fontsize=10.5)

    # colourbar
    cax = fig.add_axes(box(right + 15, top + 33, right + 32, top + 116))
    sm = cm.ScalarMappable(norm=norm, cmap=cmap)
    cb = fig.colorbar(sm, cax=cax)
    cb.outline.set_visible(False)
    st = ULL_STEP[i]
    ticks = np.arange(np.ceil(norm.vmin / st) * st, norm.vmax + 1e-9, st)
    cb.set_ticks(ticks)
    cb.set_ticklabels([f"{int(t)}" for t in ticks])
    cax.tick_params(length=0, labelsize=10.5, pad=4)
    cax.hlines(ticks, 0, 0.2, colors='white', lw=0.8)
    cax.hlines(ticks, 0.8, 1, colors='white', lw=0.8)
    fig.text((right + 15) / W, 1 - (top + 21) / H, 'ull', ha='left',
             va='center', fontsize=12.5)

fig.savefig('out.png', dpi=100)
